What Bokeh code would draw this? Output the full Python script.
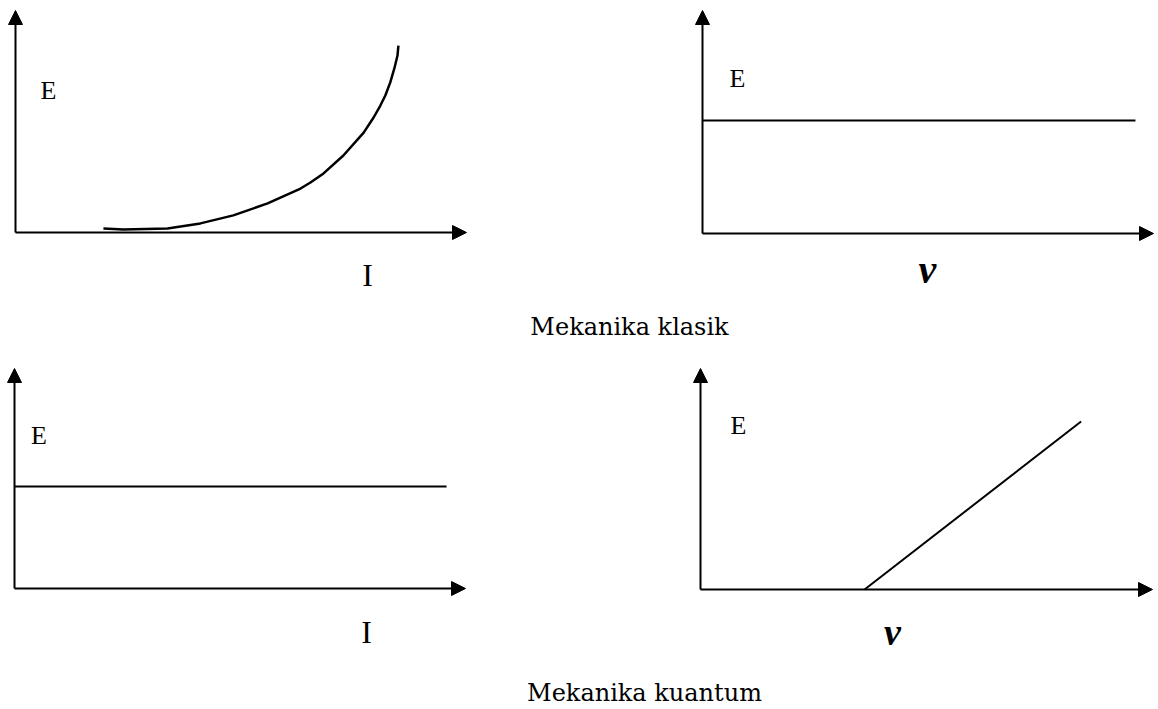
from bokeh.plotting import figure
from bokeh.models import Range1d, Arrow, NormalHead
from bokeh.layouts import column, row
from bokeh.core.properties import value
from bokeh.embed import file_html
from bokeh.resources import INLINE

# ---- data (axis units: 0..10 on each axis) ----
# Classical, E vs I (curve)
classic_I = [1.95, 2.39, 3.37, 4.10, 4.83, 5.59, 6.32, 6.54, 6.83, 7.27, 7.72, 7.94, 8.09, 8.20, 8.31, 8.40, 8.47, 8.49]
classic_E_I = [0.18, 0.14, 0.18, 0.41, 0.77, 1.31, 1.98, 2.25, 2.66, 3.47, 4.50, 5.18, 5.72, 6.17, 6.76, 7.39, 7.97, 8.42]
# Classical, E vs v (constant)
classic_v = [0.0, 9.6]
classic_E_v = [5.07, 5.07]
# Quantum, E vs I (constant)
quantum_I = [0.0, 9.58]
quantum_E_I = [4.64, 4.64]
# Quantum, E vs v (linear above threshold)
quantum_v = [3.63, 8.42]
quantum_E_v = [0.0, 7.6]

titles = ["Mekanika klasik", "Mekanika kuantum"]
y_label = "E"
x_labels = ["I", "v"]

SERIF = "Liberation Serif"


def panel(fx, fy, fw, fh, ox, oy, tx, ty, xmax=10.0, ymax=10.0):
    sx = (tx - ox) / xmax
    sy = (oy - ty) / ymax
    x0 = -(ox - fx) / sx
    y0 = -(fy + fh - oy) / sy
    p = figure(width=fw, height=fh,
               x_range=Range1d(x0, x0 + fw / sx),
               y_range=Range1d(y0, y0 + fh / sy),
               output_backend="svg", toolbar_location=None,
               min_border=0, outline_line_color=None)
    p.axis.visible = False
    p.grid.visible = False
    for (xe, ye) in [(xmax, 0), (0, ymax)]:
        p.add_layout(Arrow(end=NormalHead(size=14, fill_color="black", line_color="black", line_width=1),
                           x_start=0, y_start=0, x_end=xe, y_end=ye,
                           line_width=2, line_color="black"))

    def to_data(px, py):
        return (px - ox) / sx, (oy - py) / sy

    return p, to_data


def label(p, to_data, px, py, txt, size, style="normal"):
    x, y = to_data(px, py)
    p.text(x=[x], y=[y], text=[txt], text_align="center", text_baseline="middle",
           text_font=value(SERIF), text_font_size=size, text_font_style=style,
           text_color="black")


LW = 2

# top-left
pA, dA = panel(0, 0, 680, 300, 15, 232, 466, 10)
pA.line(classic_I, classic_E_I, line_width=2.5, line_color="black", line_join="round")
label(pA, dA, 48, 89.5, y_label, "26px")
label(pA, dA, 367, 274, x_labels[0], "32px")

# top-right
pB, dB = panel(680, 0, 478, 300, 702, 233, 1153, 10)
pB.line(classic_v, classic_E_v, line_width=LW, line_color="black")
label(pB, dB, 737, 78, y_label, "26px")
label(pB, dB, 927, 269, x_labels[1], "40px", "bold italic")

# title 1
t1 = figure(width=1158, height=45, x_range=Range1d(0, 1158), y_range=Range1d(0, 45),
            output_backend="svg", toolbar_location=None, min_border=0, outline_line_color=None)
t1.axis.visible = False
t1.grid.visible = False
t1.text(x=[629], y=[345 - 326], text=[titles[0]], text_align="center", text_baseline="middle",
        text_font=value("DejaVu Serif"), text_font_size="24px", text_color="black")

# bottom-left
pC, dC = panel(0, 345, 680, 315, 14, 588, 465, 368)
pC.line(quantum_I, quantum_E_I, line_width=LW, line_color="black")
label(pC, dC, 38.5, 434.5, y_label, "26px")
label(pC, dC, 366, 631, x_labels[0], "32px")

# bottom-right
pD, dD = panel(680, 345, 478, 315, 700, 589, 1152, 368)
pD.line(quantum_v, quantum_E_v, line_width=LW, line_color="black")
label(pD, dD, 738, 424.5, y_label, "26px")
label(pD, dD, 892, 631, x_labels[1], "38px", "bold italic")

# title 2
t2 = figure(width=1158, height=49, x_range=Range1d(0, 1158), y_range=Range1d(0, 49),
            output_backend="svg", toolbar_location=None, min_border=0, outline_line_color=None)
t2.axis.visible = False
t2.grid.visible = False
t2.text(x=[644], y=[709 - 692], text=[titles[1]], text_align="center", text_baseline="middle",
        text_font=value("DejaVu Serif"), text_font_size="24px", text_color="black")

layout = column(row(pA, pB), t1, row(pC, pD), t2)

open("out.html", "w").write(file_html(layout, INLINE))
